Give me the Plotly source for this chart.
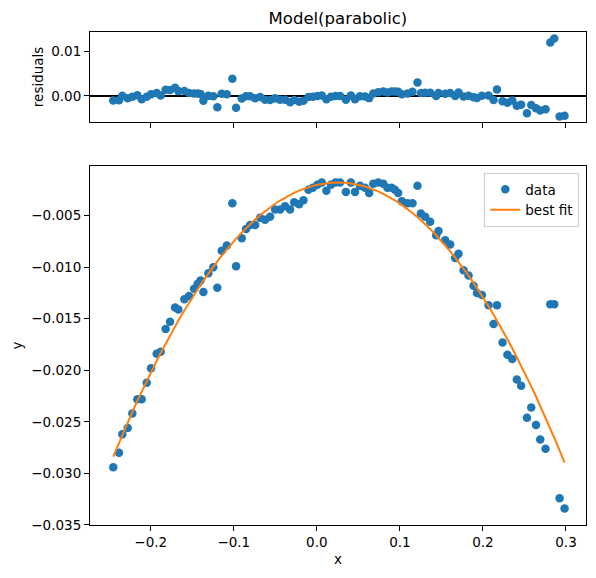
import numpy as np
import plotly.graph_objects as go

# data
x_data = [-0.2451, -0.2382, -0.2342, -0.2277, -0.2221, -0.2161, -0.2109, -0.2048, -0.1996, -0.1928,
          -0.1880, -0.1820, -0.1767, -0.1707, -0.1667, -0.1595, -0.1538, -0.1478, -0.1434, -0.1400,
          -0.1366, -0.1306, -0.1246, -0.1198, -0.1145, -0.1084, -0.1017, -0.0972, -0.0904, -0.0852,
          -0.0804, -0.0743, -0.0683, -0.0623, -0.0562, -0.0502, -0.0442, -0.0382, -0.0322, -0.0273,
          -0.0213, -0.0161, -0.0101, -0.0048, 0.0007, 0.0060, 0.0115, 0.0170, 0.0225, 0.0280,
          0.0350, 0.0410, 0.0460, 0.0520, 0.0580, 0.0630, 0.0680, 0.0740, 0.0800, 0.0850,
          0.0900, 0.0940, 0.0980, 0.1024, 0.1092, 0.1152, 0.1212, 0.1253, 0.1305, 0.1365,
          0.1437, 0.1465, 0.1546, 0.1606, 0.1666, 0.1706, 0.1767, 0.1827, 0.1887, 0.1928,
          0.1988, 0.2067, 0.2128, 0.2169, 0.2236, 0.2295, 0.2353, 0.2408, 0.2460, 0.2530,
          0.2582, 0.2639, 0.2690, 0.2754, 0.2811, 0.2859, 0.2923, 0.2983]
y_data = [-0.0294, -0.0280, -0.0262, -0.0256, -0.0242, -0.0228, -0.0228, -0.0212, -0.0198, -0.0184,
          -0.0182, -0.0160, -0.0153, -0.0139, -0.0141, -0.0131, -0.0128, -0.0121, -0.0116, -0.0113,
          -0.0124, -0.0106, -0.0100, -0.0120, -0.0084, -0.0079, -0.0038, -0.0099, -0.0072, -0.0063,
          -0.0059, -0.0059, -0.0052, -0.0054, -0.0051, -0.0044, -0.0044, -0.0041, -0.0044, -0.0037,
          -0.0039, -0.0035, -0.0025, -0.0023, -0.0020, -0.0018, -0.0026, -0.0020, -0.0018, -0.0018,
          -0.0027, -0.0018, -0.0027, -0.0021, -0.0023, -0.0028, -0.0019, -0.0018, -0.0019, -0.0023,
          -0.0023, -0.0025, -0.0028, -0.0036, -0.0038, -0.0038, -0.0021, -0.0048, -0.0051, -0.0056,
          -0.0069, -0.0065, -0.0074, -0.0078, -0.0091, -0.0087, -0.0103, -0.0108, -0.0118, -0.0125,
          -0.0127, -0.0137, -0.0155, -0.0137, -0.0173, -0.0185, -0.0189, -0.0209, -0.0215, -0.0246,
          -0.0236, -0.0253, -0.0267, -0.0276, -0.0136, -0.0136, -0.0324, -0.0334]

x_ticks = [-0.2, -0.1, 0.0, 0.1, 0.2, 0.3]
y_ticks = [-0.035, -0.030, -0.025, -0.020, -0.015, -0.010, -0.005]
res_ticks = [0.0, 0.01]

x = np.array(x_data)
y = np.array(y_data)
coef = np.polyfit(x, y, 2)          # parabolic model fit
best_fit = np.polyval(coef, x)
residuals = y - best_fit

BLUE = "#1f77b4"
ORANGE = "#ff7f0e"
FONT = "DejaVu Sans"

fig = go.Figure()
fig.add_trace(go.Scatter(x=x, y=residuals, mode="markers", xaxis="x2", yaxis="y2",
                         marker=dict(color=BLUE, size=8.5), showlegend=False))
fig.add_trace(go.Scatter(x=x, y=y, mode="markers", name="data",
                         marker=dict(color=BLUE, size=8.5)))
fig.add_trace(go.Scatter(x=x, y=best_fit, mode="lines", name="best fit",
                         line=dict(color=ORANGE, width=2)))

xr = [-0.2731, 0.3241]
axis_common = dict(showline=True, linecolor="black", linewidth=1.1, mirror=True,
                   ticks="outside", ticklen=5, tickwidth=1.1, tickcolor="black",
                   showgrid=False, zeroline=False,
                   tickfont=dict(family=FONT, size=13.5, color="black"))

fig.update_layout(
    width=596, height=578,
    margin=dict(l=90, r=10, t=32, b=53),
    paper_bgcolor="white", plot_bgcolor="white",
    font=dict(family=FONT, size=13.5, color="black"),
    title=dict(text="Model(parabolic)", x=0.567, xanchor="center", y=1 - 18 / 578,
               yanchor="middle", font=dict(family=FONT, size=16.5, color="black")),
    xaxis=dict(domain=[0, 1], range=xr, tickvals=x_ticks, tickformat=".1f",
               title=dict(text="x", standoff=5, font=dict(size=13.5)), anchor="y", **axis_common),
    yaxis=dict(domain=[0, 0.728], range=[-0.0350, -0.0002], tickvals=y_ticks,
               tickformat=".3f", title=dict(text="y", standoff=5, font=dict(size=13.5)),
               anchor="x", **axis_common),
    xaxis2=dict(domain=[0, 1], range=xr, tickvals=x_ticks, showticklabels=False,
                anchor="y2", matches="x", **axis_common),
    yaxis2=dict(domain=[0.818, 1.0], range=[-0.0058, 0.01438], tickvals=res_ticks,
                tickformat=".2f", title=dict(text="residuals", standoff=4, font=dict(size=13.5)),
                anchor="x2", **axis_common),
    legend=dict(x=0.9865, y=0.714, xanchor="right", yanchor="top",
                bgcolor="rgba(255,255,255,0.8)", bordercolor="#cccccc", borderwidth=1,
                font=dict(family=FONT, size=13.5, color="black")),
    shapes=[dict(type="line", xref="x2 domain", yref="y2", x0=0, x1=1, y0=0, y1=0,
                 line=dict(color="black", width=2), layer="below")],
)

fig.write_html("out.html")
